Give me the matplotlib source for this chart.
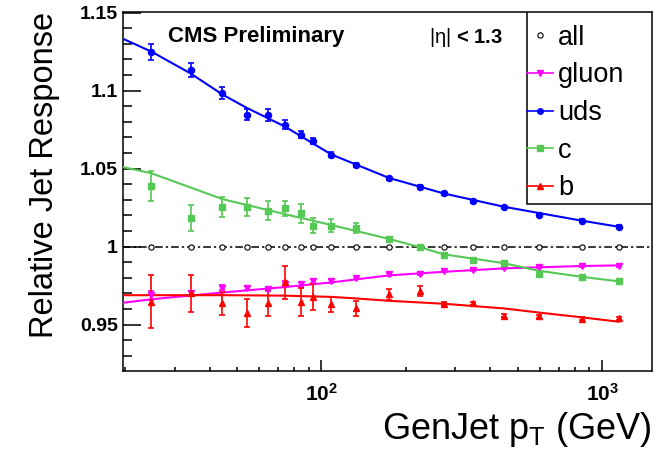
import matplotlib
matplotlib.use("Agg")
import matplotlib.pyplot as plt
from matplotlib.lines import Line2D
from matplotlib.patches import Rectangle
from matplotlib.ticker import MultipleLocator, FixedLocator, FixedFormatter, LogLocator, NullFormatter

plt.rcParams['font.family'] = ['Liberation Sans', 'DejaVu Sans']
plt.rcParams['mathtext.fontset'] = 'custom'
plt.rcParams['mathtext.rm'] = 'Liberation Sans'
plt.rcParams['mathtext.it'] = 'Liberation Sans:italic'
plt.rcParams['mathtext.bf'] = 'Liberation Sans:bold'

# GenJet pT bin centres (GeV)
pt = [24.8, 34.2, 44.4, 54.1, 64.5, 74, 84.4, 93.7, 108.5, 133, 174, 225,
      273, 346, 447, 593, 844, 1143]

# measured relative response per flavour
resp_all = [1.0] * len(pt)
resp_uds = [1.1248, 1.1132, 1.0983, 1.0845, 1.0845, 1.0782, 1.0718, 1.0675, 1.059,
            1.0522, 1.0438, 1.0382, 1.0341, 1.0289, 1.0252, 1.0204, 1.0166, 1.0127]
err_uds = [0.005, 0.0045, 0.0038, 0.0035, 0.0037, 0.003, 0.002, 0.002, 0.0015,
           0.0012, 0.001, 0.001, 0.001, 0.0008, 0.0008, 0.0008, 0.0008, 0.0008]
resp_c = [1.0389, 1.0183, 1.0255, 1.0255, 1.0229, 1.0244, 1.0212, 1.0134, 1.0134,
          1.0119, 1.0049, 1.0, 0.9943, 0.9911, 0.9894, 0.9826, 0.9804, 0.9777]
err_c = [0.0096, 0.0085, 0.0064, 0.0057, 0.006, 0.005, 0.006, 0.005, 0.004,
         0.003, 0.0015, 0.001, 0.001, 0.0008, 0.0008, 0.0008, 0.0008, 0.0008]
resp_g = [0.9688, 0.9699, 0.9737, 0.9735, 0.973, 0.9762, 0.9758, 0.9779, 0.9779,
          0.98, 0.9822, 0.9826, 0.9843, 0.9851, 0.9864, 0.9868, 0.9873, 0.9877]
err_g = [0.003, 0.0015, 0.0015, 0.0012, 0.0012, 0.0015, 0.0015, 0.0015, 0.001,
         0.001, 0.0008, 0.0008, 0.0006, 0.0006, 0.0006, 0.0006, 0.0006, 0.0006]
resp_b = [0.9645, 0.9699, 0.9635, 0.9571, 0.9639, 0.977, 0.9645, 0.9677, 0.9629,
          0.9603, 0.9694, 0.9713, 0.9633, 0.9637, 0.9556, 0.9553, 0.9536, 0.954]
err_b = [0.017, 0.0117, 0.0075, 0.009, 0.0085, 0.0105, 0.009, 0.0085, 0.005,
         0.005, 0.0035, 0.0032, 0.001, 0.001, 0.001, 0.001, 0.001, 0.001]

fit_uds_x = [19.6, 24.8, 34.2, 44.4, 54.1, 74, 108.5, 174, 273, 447, 844, 1143]
fit_uds_y = [1.1333, 1.125, 1.111, 1.0975, 1.089, 1.077, 1.059, 1.044, 1.034, 1.0255, 1.0166, 1.0127]
fit_c_x = [19.6, 24.8, 44.4, 74, 108.5, 174, 225, 273, 447, 593, 844, 1143]
fit_c_y = [1.051, 1.047, 1.0304, 1.0208, 1.0138, 1.0049, 0.9995, 0.995, 0.9893, 0.9845, 0.9806, 0.9777]
fit_g_x = [19.6, 24.8, 44.4, 74, 108.5, 174, 273, 447, 844, 1143]
fit_g_y = [0.9639, 0.9662, 0.9705, 0.974, 0.977, 0.9815, 0.9838, 0.986, 0.9875, 0.9879]
fit_b_x = [19.6, 44.4, 74, 108.5, 133, 174, 273, 447, 593, 844, 1143]
fit_b_y = [0.9688, 0.9688, 0.9685, 0.9677, 0.9667, 0.9652, 0.9633, 0.9603, 0.9577, 0.9546, 0.9518]

c_uds = '#0000ff'
c_c = '#55c855'
c_g = '#ff00ff'
c_b = '#ff0000'

fig = plt.figure(figsize=(6.69, 4.59), dpi=100)
ax = fig.add_axes([0.1834, 0.1928, 0.7907, 0.7804])

# "all" reference line and points
ax.axhline(1.0, color='black', lw=1.1, ls=(0, (5, 2, 1.5, 2)), zorder=2)
ax.plot(pt, resp_all, ls='none', marker='o', ms=3.8, mfc='white', mec='black', mew=0.8, zorder=3)

series = [
    (resp_g, err_g, fit_g_x, fit_g_y, c_g, 'v'),
    (resp_uds, err_uds, fit_uds_x, fit_uds_y, c_uds, 'o'),
    (resp_c, err_c, fit_c_x, fit_c_y, c_c, 's'),
    (resp_b, err_b, fit_b_x, fit_b_y, c_b, '^'),
]
for vals, errs, fx, fy, col, mk in series:
    ax.plot(fx, fy, color=col, lw=1.5, zorder=4)
    ax.errorbar(pt, vals, yerr=errs, fmt=mk, color=col, ms=4.4, elinewidth=1.2,
                capsize=2.2, capthick=1.2, zorder=5)

ax.set_xscale('log')
ax.set_xlim(19.6, 1500)
ax.set_ylim(0.9205, 1.1502)

ax.xaxis.set_major_locator(FixedLocator([100, 1000]))
ax.xaxis.set_major_formatter(FixedFormatter([r'$\mathbf{10^{2}}$', r'$\mathbf{10^{3}}$']))
ax.xaxis.set_minor_locator(LogLocator(base=10, subs=range(2, 10), numticks=20))
ax.xaxis.set_minor_formatter(NullFormatter())
ax.yaxis.set_major_locator(FixedLocator([0.95, 1.0, 1.05, 1.1, 1.15]))
ax.yaxis.set_major_formatter(FixedFormatter(['0.95', '1', '1.05', '1.1', '1.15']))
ax.yaxis.set_minor_locator(MultipleLocator(0.01))

ax.tick_params(axis='both', which='both', direction='in', top=False, right=False, width=1.1)
ax.tick_params(axis='x', which='major', length=8, pad=9, labelsize=15)
ax.tick_params(axis='x', which='minor', length=3)
ax.tick_params(axis='y', which='major', length=13, pad=3.5, labelsize=14)
ax.tick_params(axis='y', which='minor', length=6.5)
for lab in ax.get_yticklabels():
    lab.set_fontweight('bold')
for sp in ax.spines.values():
    sp.set_linewidth(1.1)

ax.set_ylabel('Relative Jet Response', fontsize=23.5, loc='top', labelpad=14)
ax.set_xlabel(r'GenJet p$_\mathrm{T}$ (GeV)', fontsize=26, loc='right', labelpad=4)

ax.text(0.0856, 0.9324, 'CMS Preliminary', transform=ax.transAxes, fontsize=16,
        fontweight='bold', va='center', ha='left')
ax.text(0.719, 0.931, r'$\mathrm{|\eta|}$ < 1.3', transform=ax.transAxes, fontsize=14.5,
        fontweight='bold', va='center', ha='right')

# legend box drawn by hand so it sits flush in the top-right corner
ax.add_patch(Rectangle((0.7643, 0.4648), 0.2357, 0.5352, transform=ax.transAxes,
                       facecolor='white', edgecolor='black', lw=1.1, zorder=9))
handles = [
    Line2D([], [], ls='none', marker='o', ms=3.8, mfc='white', mec='black', mew=0.8),
    Line2D([], [], color=c_g, marker='v', ms=4, lw=1.2),
    Line2D([], [], color=c_uds, marker='o', ms=4, lw=1.2),
    Line2D([], [], color=c_c, marker='s', ms=4, lw=1.2),
    Line2D([], [], color=c_b, marker='^', ms=4, lw=1.2),
]
labels = ['all', 'gluon', 'uds', 'c', 'b']
leg = ax.legend(handles, labels, loc='upper left', bbox_to_anchor=(0.7643, 0.965),
                borderaxespad=0, borderpad=0, handlelength=0.95,
                handletextpad=0.2, labelspacing=0.43, fontsize=19.5, frameon=False)
leg.set_zorder(10)

fig.savefig('out.png', dpi=100)
